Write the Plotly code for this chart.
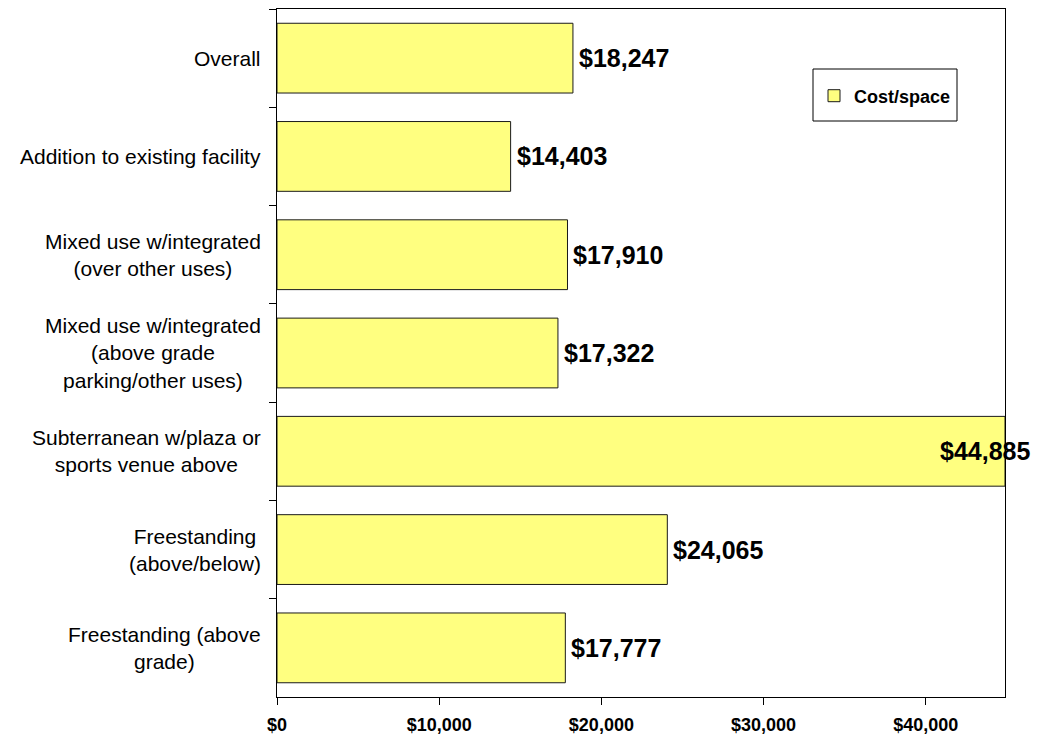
import plotly.graph_objects as go

categories = [
    "Overall",
    "Addition to existing facility",
    "Mixed use w/integrated<br>(over other uses)",
    "Mixed use w/integrated<br>(above grade<br>parking/other uses)",
    "Subterranean w/plaza or<br>sports venue above",
    "Freestanding<br>(above/below)",
    "Freestanding (above<br>grade)",
]
cost_per_space = [18247, 14403, 17910, 17322, 44885, 24065, 17777]
series_name = "Cost/space"
x_tickvals = [0, 10000, 20000, 30000, 40000]
x_ticktext = ["$0", "$10,000", "$20,000", "$30,000", "$40,000"]
x_max = 44885

FONT = "Liberation Sans, Arial, sans-serif"

fig = go.Figure()
fig.add_trace(go.Bar(
    y=categories, x=cost_per_space, orientation="h", name=series_name,
    marker=dict(color="#FFFF80", line=dict(color="#1a1a1a", width=1)),
    hoverinfo="x+y",
))

annotations = []
for cat, v in zip(categories, cost_per_space):
    near_edge = v > 0.95 * x_max
    annotations.append(dict(
        x=v, y=cat, xref="x", yref="y",
        text="$" + f"{v:,}",
        showarrow=False,
        xanchor="center" if near_edge else "left",
        xshift=-20 if near_edge else 4,
        font=dict(family=FONT, size=25, color="black", weight="bold"),
    ))
    annotations.append(dict(
        x=0, y=cat, xref="paper", yref="y",
        text=cat, showarrow=False, xanchor="right", align="center",
        xshift=-14,
        font=dict(family=FONT, size=21, color="black"),
    ))

# page body has an 8px default margin; figure placed at (8, 8)
OX, OY = 8, 8
L, T, R, B = 277 - OX, 9 - OY, 1005 - OX, 697 - OY
W, H = 1040, 728
PW, PH = R - L, B - T

fig.update_layout(
    width=W, height=H,
    margin=dict(l=L, r=W - R, t=T, b=H - B),
    paper_bgcolor="white", plot_bgcolor="white",
    bargap=0.29,
    annotations=annotations,
    showlegend=True,
    legend=dict(
        x=(885 - OX - L) / PW, y=(B - (96 - OY)) / PH, xanchor="center", yanchor="middle",
        bgcolor="rgba(0,0,0,0)", borderwidth=0,
        font=dict(family=FONT, size=18, color="black", weight="bold"),
    ),
    shapes=[dict(type="rect", xref="paper", yref="paper",
                 x0=(813 - OX - L) / PW, x1=(957 - OX - L) / PW,
                 y0=(B - (121 - OY)) / PH, y1=(B - (69 - OY)) / PH,
                 line=dict(color="black", width=1), fillcolor="white", layer="below")],
    font=dict(family=FONT, color="black"),
)
fig.update_xaxes(
    range=[0, x_max], tickvals=x_tickvals, ticktext=x_ticktext,
    showgrid=False, zeroline=False, automargin=False,
    showline=True, linecolor="black", linewidth=1, mirror=True,
    ticks="outside", ticklen=7, tickcolor="black", ticklabelstandoff=4,
    tickfont=dict(family=FONT, size=18, color="black", weight="bold"),
)
fig.update_yaxes(
    type="category", autorange="reversed", automargin=False,
    showticklabels=False, showgrid=False, zeroline=False,
    showline=True, linecolor="black", linewidth=1, mirror=True,
    ticks="outside", ticklen=7, tickcolor="black", tickson="boundaries",
)

fig.write_html("out.html")
